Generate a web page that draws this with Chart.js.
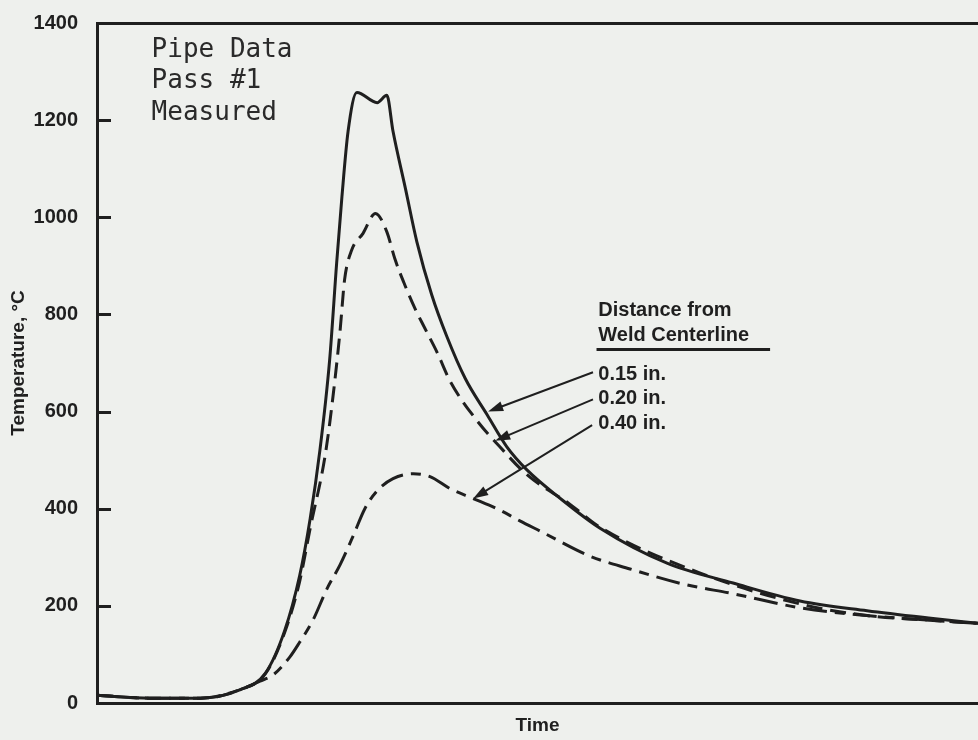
<!DOCTYPE html>
<html lang="en">
<head>
<meta charset="UTF-8">
<title>Pipe Data Pass #1</title>
<style>
  html, body { margin: 0; padding: 0; background: #eef0ed; }
  .wrap { width: 978px; height: 740px; position: relative; }
</style>
</head>
<body>
<div class="wrap"><canvas id="myChart"></canvas></div>
<script src="https://cdn.jsdelivr.net/npm/chart.js"></script>
<script>
  // time has no tick labels in the original, so it runs 0..100 here
  const time015 = [0, 6.0, 11.7, 16.2, 19.1, 21.3, 23.0, 24.2, 25.3, 26.4, 27.2, 27.8, 28.5, 29.5, 31.8, 32.9, 33.6, 35.0, 36.3, 38.0, 39.7, 41.8, 44.3, 46.5, 48.8, 52.6, 57.1, 64.7, 72.2, 79.8, 87.4, 94.9, 100];
  const temp015 = [16, 10, 10, 27, 61, 149, 262, 380, 520, 705, 905, 1042, 1177, 1257, 1236, 1251, 1177, 1060, 950, 840, 755, 668, 593, 528, 480, 421, 360, 288, 247, 210, 190, 174, 164];

  const time020 = [0, 6.0, 11.7, 16.2, 19.1, 21.3, 23.0, 24.2, 25.9, 26.8, 27.6, 28.1, 28.9, 30.2, 31.6, 32.9, 33.8, 35.0, 36.1, 37.2, 38.6, 40.1, 43.1, 45.7, 48.8, 53.7, 57.1, 68.4, 79.8, 87.4, 94.9, 100];
  const temp020 = [16, 10, 10, 27, 60, 145, 250, 360, 510, 633, 768, 871, 932, 967, 1008, 970, 915, 858, 812, 772, 722, 662, 582, 528, 470, 409, 362, 268, 204, 180, 170, 164];

  const time040 = [0, 6.0, 11.7, 16.2, 18.5, 20.0, 21.9, 23.0, 24.5, 26.1, 27.6, 29.1, 30.4, 31.8, 33.6, 35.9, 37.8, 40.1, 42.7, 45.4, 48.0, 50.3, 56.0, 60.5, 66.5, 72.2, 79.8, 87.4, 94.9, 100];
  const temp040 = [16, 10, 10, 27, 45, 58, 95, 125, 170, 235, 285, 345, 400, 437, 462, 472, 466, 441, 421, 400, 375, 354, 302, 276, 245, 225, 196, 180, 170, 164];

  const seriesNames = ['0.15 in.', '0.20 in.', '0.40 in.'];
  const noteLines = ['Pipe Data', 'Pass #1', 'Measured'];
  const legendTitle = ['Distance from', 'Weld Centerline'];

  const ink = '#1f1f1f';
  const toPoints = (ts, vs) => ts.map((t, i) => ({x: t, y: vs[i]}));

  // text and arrows drawn in data units so they follow the scales
  const notes = {
    id: 'notes',
    afterDatasetsDraw(chart) {
      const {ctx, scales: {x, y}} = chart;
      const px = t => x.getPixelForValue(t);
      const py = v => y.getPixelForValue(v);
      ctx.save();

      // inward tick marks on the temperature axis
      ctx.strokeStyle = ink;
      ctx.lineWidth = 3;
      y.ticks.forEach(tk => {
        if (tk.value <= 0 || tk.value >= 1400) return;
        const yy = Math.round(py(tk.value)) + 0.5;
        ctx.beginPath();
        ctx.moveTo(x.left, yy);
        ctx.lineTo(x.left + 14, yy);
        ctx.stroke();
      });

      ctx.fillStyle = '#2a2a2a';
      ctx.font = '26px "DejaVu Sans Mono"';
      ctx.textBaseline = 'alphabetic';
      noteLines.forEach((s, i) => ctx.fillText(s, px(6.2), py(1331 - i * 65.5)));

      ctx.fillStyle = ink;
      ctx.font = 'bold 20px "Liberation Sans", Arial, sans-serif';
      ctx.fillText(legendTitle[0], px(56.9), py(797));
      ctx.fillText(legendTitle[1], px(56.9), py(746));
      ctx.lineWidth = 3;
      ctx.beginPath();
      ctx.moveTo(px(56.7), py(728));
      ctx.lineTo(px(76.4), py(728));
      ctx.stroke();

      const labelY = [666, 615, 564];
      const tails = [[56.3, 681], [56.3, 625], [56.2, 572]];
      const heads = [[44.4, 600], [45.2, 540], [42.7, 421]];
      seriesNames.forEach((s, i) => {
        ctx.fillText(s, px(56.9), py(labelY[i]));
        const x0 = px(tails[i][0]), y0 = py(tails[i][1]);
        const x1 = px(heads[i][0]), y1 = py(heads[i][1]);
        const a = Math.atan2(y1 - y0, x1 - x0);
        ctx.lineWidth = 2;
        ctx.beginPath();
        ctx.moveTo(x0, y0);
        ctx.lineTo(x1 - 8 * Math.cos(a), y1 - 8 * Math.sin(a));
        ctx.stroke();
        ctx.beginPath();
        ctx.moveTo(x1, y1);
        ctx.lineTo(x1 - 15 * Math.cos(a) + 5 * Math.sin(a), y1 - 15 * Math.sin(a) - 5 * Math.cos(a));
        ctx.lineTo(x1 - 15 * Math.cos(a) - 5 * Math.sin(a), y1 - 15 * Math.sin(a) + 5 * Math.cos(a));
        ctx.closePath();
        ctx.fill();
      });
      ctx.restore();
    }
  };

  const line = {borderColor: ink, borderWidth: 3, pointRadius: 0, fill: false, cubicInterpolationMode: 'monotone'};

  const data = {
    datasets: [
      Object.assign({label: seriesNames[0], data: toPoints(time015, temp015)}, line),
      Object.assign({label: seriesNames[1], data: toPoints(time020, temp020), borderDash: [16, 8]}, line),
      Object.assign({label: seriesNames[2], data: toPoints(time040, temp040), borderDash: [24, 8, 10, 8]}, line)
    ]
  };

  const config = {
    type: 'line',
    data: data,
    plugins: [notes],
    options: {
      responsive: true,
      maintainAspectRatio: false,
      animation: false,
      layout: {padding: 0},
      plugins: {legend: {display: false}, tooltip: {enabled: false}},
      scales: {
        x: {
          type: 'linear', min: 0, max: 100,
          afterFit: s => { s.height = 37; },
          grid: {display: false},
          border: {display: true, width: 3, color: ink},
          ticks: {display: false},
          title: {display: true, text: 'Time', color: ink, padding: {top: 0, bottom: 3},
                  font: {family: '"Liberation Sans", Arial, sans-serif', size: 19, weight: 'bold'}}
        },
        x2: {
          type: 'linear', position: 'top', min: 0, max: 100,
          afterFit: s => { s.height = 20; },
          grid: {display: false},
          border: {display: true, width: 3, color: ink},
          ticks: {display: false}
        },
        y: {
          min: 0, max: 1400,
          ticks: {stepSize: 200, color: ink, padding: 11, callback: v => String(v),
                  font: {family: '"Liberation Sans", Arial, sans-serif', size: 20, weight: 'bold'}},
          afterFit: s => { s.width = 97; },
          grid: {display: false},
          border: {display: true, width: 3, color: ink},
          title: {display: true, text: 'Temperature, °C', color: ink, padding: {top: 7, bottom: 0},
                  font: {family: '"Liberation Sans", Arial, sans-serif', size: 19, weight: 'bold'}}
        }
      }
    }
  };

  const myChart = new Chart(document.getElementById('myChart').getContext('2d'), config);
</script>
</body>
</html>
